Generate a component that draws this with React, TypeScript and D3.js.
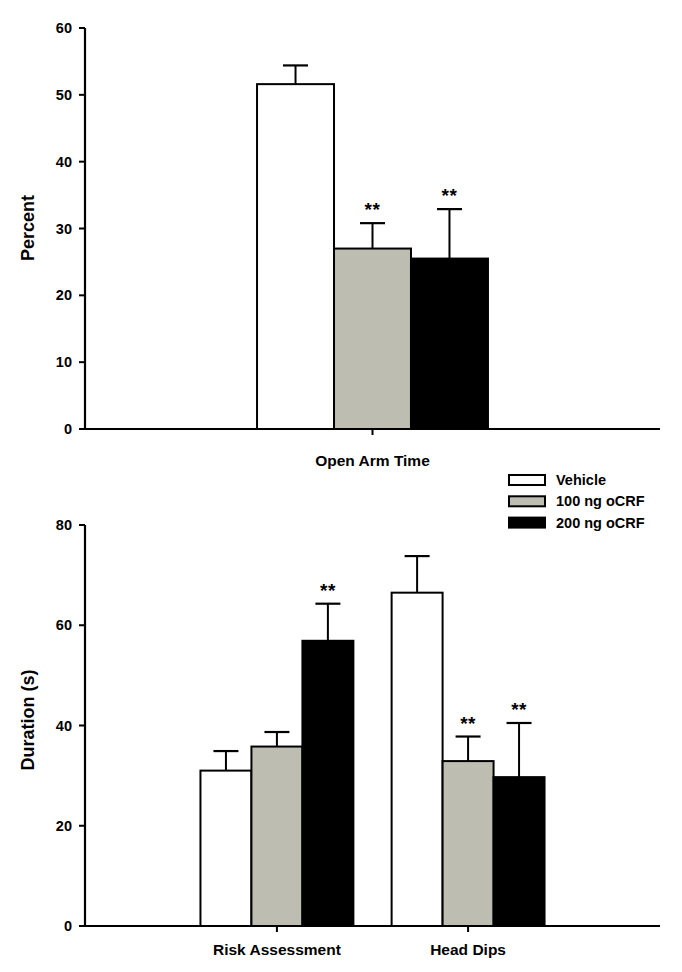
import React from "react";
import * as d3 from "d3";

const seriesNames = ["Vehicle", "100 ng oCRF", "200 ng oCRF"];
const seriesColors = ["#ffffff", "#bdbdb1", "#000000"];

const topCategories = ["Open Arm Time"];
const topMeans = [[51.6], [27.0], [25.5]];
const topErrors = [[54.4], [30.8], [32.9]];
const topStars = [[""], ["**"], ["**"]];
const topTicks = [0, 10, 20, 30, 40, 50, 60];

const bottomCategories = ["Risk Assessment", "Head Dips"];
const bottomMeans = [[31.0, 66.5], [35.8, 32.9], [56.9, 29.7]];
const bottomErrors = [[34.9, 73.8], [38.7, 37.8], [64.3, 40.5]];
const bottomStars = [["", ""], ["", "**"], ["**", "**"]];
const bottomTicks = [0, 20, 40, 60, 80];

const FONT = "'Liberation Sans', Arial, Helvetica, sans-serif";

type PanelProps = {
  categories: string[];
  means: number[][];
  errors: number[][];
  stars: string[][];
  ticks: number[];
  yMax: number;
  top: number;
  bottom: number;
  paddingOuter: number;
  title: string;
  titleY: number;
  labelOffset: number;
};

function Panel(p: PanelProps) {
  const left = 85;
  const right = 660;
  const y = d3.scaleLinear().domain([0, p.yMax]).range([p.bottom, p.top]);
  const x0 = d3
    .scaleBand<string>()
    .domain(p.categories)
    .range([left, right])
    .paddingInner(0.2)
    .paddingOuter(p.paddingOuter);
  const x1 = d3
    .scaleBand<number>()
    .domain(d3.range(seriesNames.length))
    .range([0, x0.bandwidth()]);
  const capHalf = 12.5;
  return (
    <g>
      {p.categories.map((c, ci) =>
        seriesNames.map((s, si) => {
          const bx = (x0(c) as number) + (x1(si) as number);
          const bw = x1.bandwidth();
          const cx = bx + bw / 2;
          const v = p.means[si][ci];
          const e = p.errors[si][ci];
          return (
            <g key={c + s}>
              <line x1={cx} x2={cx} y1={y(v)} y2={y(e)} stroke="#000" strokeWidth={2} />
              <line x1={cx - capHalf} x2={cx + capHalf} y1={y(e)} y2={y(e)} stroke="#000" strokeWidth={2.2} />
              <rect
                x={bx}
                y={y(v)}
                width={bw}
                height={y(0) - y(v)}
                fill={seriesColors[si]}
                stroke="#000"
                strokeWidth={2}
              />
              {p.stars[si][ci] ? (
                <text
                  x={cx}
                  y={y(e) - 7}
                  textAnchor="middle"
                  fontFamily={FONT}
                  fontWeight="bold"
                  fontSize={19}
                  letterSpacing={0.5}
                >
                  {p.stars[si][ci]}
                </text>
              ) : null}
            </g>
          );
        })
      )}
      {/* axes */}
      <line x1={left} x2={left} y1={p.top} y2={p.bottom + 1} stroke="#000" strokeWidth={2.2} />
      <line x1={left - 1} x2={right} y1={p.bottom} y2={p.bottom} stroke="#000" strokeWidth={2.2} />
      {p.ticks.map((t) => (
        <g key={t}>
          <line x1={left - 6} x2={left} y1={y(t)} y2={y(t)} stroke="#000" strokeWidth={2} />
          <text
            x={left - 13}
            y={y(t)}
            dy="0.35em"
            textAnchor="end"
            fontFamily={FONT}
            fontWeight="bold"
            fontSize={14.5}
          >
            {t}
          </text>
        </g>
      ))}
      {p.categories.map((c) => {
        const cx = (x0(c) as number) + x0.bandwidth() / 2;
        return (
          <g key={c}>
            <line x1={cx} x2={cx} y1={p.bottom} y2={p.bottom + 6} stroke="#000" strokeWidth={2} />
            <text
              x={cx}
              y={p.bottom + p.labelOffset}
              dy="0.35em"
              textAnchor="middle"
              fontFamily={FONT}
              fontWeight="bold"
              fontSize={15.5}
            >
              {c}
            </text>
          </g>
        );
      })}
      <text
        transform={`translate(28,${p.titleY}) rotate(-90)`}
        dy="0.35em"
        textAnchor="middle"
        fontFamily={FONT}
        fontWeight="bold"
        fontSize={18}
      >
        {p.title}
      </text>
    </g>
  );
}

export default function App() {
  return (
    <svg
      width={682}
      height={972}
      style={{ position: "absolute", left: 0, top: 0, background: "#fff" }}
    >
      <rect x={0} y={0} width={682} height={972} fill="#fff" />
      <Panel
        categories={topCategories}
        means={topMeans}
        errors={topErrors}
        stars={topStars}
        ticks={topTicks}
        yMax={60}
        top={28}
        bottom={429}
        paddingOuter={0.596}
        title="Percent"
        titleY={228}
        labelOffset={32}
      />
      <Panel
        categories={bottomCategories}
        means={bottomMeans}
        errors={bottomErrors}
        stars={bottomStars}
        ticks={bottomTicks}
        yMax={80}
        top={525}
        bottom={926}
        paddingOuter={0.604}
        title="Duration (s)"
        titleY={720}
        labelOffset={24}
      />
      <g>
        {seriesNames.map((s, i) => (
          <g key={s} transform={`translate(509,${475 + i * 21.3})`}>
            <rect x={0} y={0} width={36} height={10} fill={seriesColors[i]} stroke="#000" strokeWidth={2} />
            <text
              x={47}
              y={5}
              dy="0.35em"
              fontFamily={FONT}
              fontWeight="bold"
              fontSize={14.5}
            >
              {s}
            </text>
          </g>
        ))}
      </g>
    </svg>
  );
}
